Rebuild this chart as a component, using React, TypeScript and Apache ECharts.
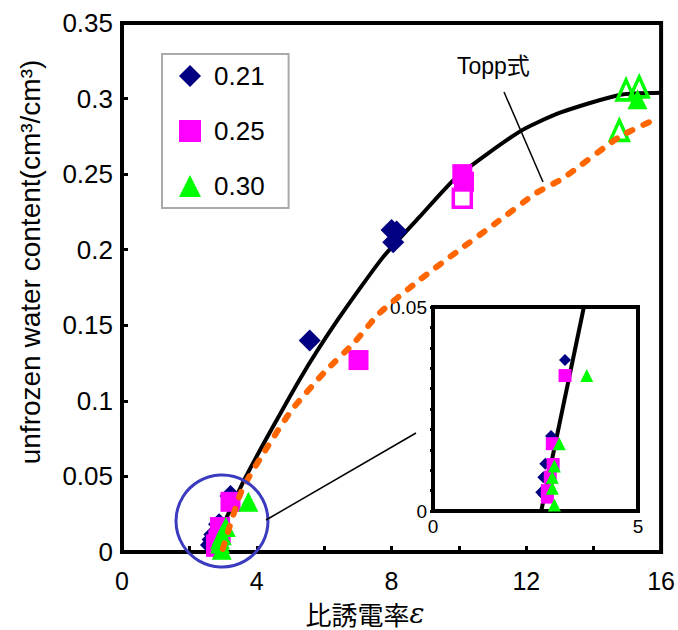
import React, { useEffect, useRef } from 'react';
import * as echarts from 'echarts';

const FONT = '"Liberation Sans", Arial, sans-serif';
const JPFONT = '"Liberation Sans", "Noto Sans CJK JP", sans-serif';

// Legend / category names
const legendNames = ['0.21', '0.25', '0.30'];

// Measured points [permittivity ε, unfrozen water content]
const diamond021: number[][] = [
  [5.57, 0.14], [8.0, 0.213], [8.05, 0.205], [8.15, 0.212],
  [3.22, 0.037], [2.88, 0.0184], [2.74, 0.0116], [2.69, 0.0083], [2.64, 0.0046], [2.7, 0.004],
];
const square025: number[][] = [
  [7.02, 0.127], [10.1, 0.25], [10.15, 0.245],
  [3.22, 0.0332], [2.91, 0.0165], [2.93, 0.0114], [2.86, 0.0083], [2.79, 0.005], [2.79, 0.0034],
];
const square025Hollow: number[][] = [[10.1, 0.234]];
const triangle030: number[][] = [
  [15.3, 0.2995],
  [3.75, 0.0332], [3.08, 0.0165], [2.96, 0.011], [2.91, 0.0083], [2.91, 0.0056], [2.96, 0.0015],
];
const triangle030Hollow: number[][] = [[14.96, 0.3057], [15.35, 0.3077], [14.76, 0.279]];

// Fitted curve (solid black)
const fitCurve: number[][] = [
  [2.64, 0], [3.68, 0.05], [5.27, 0.114], [6.4, 0.1535], [7.73, 0.1946], [8.83, 0.2217],
  [9.93, 0.248], [11.79, 0.278], [12.98, 0.2905], [14.76, 0.3024], [16, 0.3038],
];
// Topp equation curve (orange dotted)
const toppCurve: number[][] = [
  [2.99, 0.002], [3.56, 0.041], [4.33, 0.07], [5.04, 0.094], [6.01, 0.119], [6.87, 0.138],
  [7.64, 0.158], [8.83, 0.18], [9.93, 0.1985], [11.1, 0.2177], [12.3, 0.2376], [13.07, 0.247],
  [14.76, 0.2746], [15.9, 0.287],
];
// Inset fitted segment
const insetCurve: number[][] = [[2.64, 0], [3.68, 0.05]];

const mainX = { min: 0, max: 16, interval: 2 };
const mainY = { min: 0, max: 0.35, interval: 0.05 };
const insetX = { min: 0, max: 5, interval: 1 };
const insetY = { min: 0, max: 0.05, interval: 0.005 };

const NAVY = '#000080';
const MAGENTA = '#ff00ff';
const GREEN = '#00ff00';
const ORANGE = '#ff6600';

export default function App() {
  const ref = useRef<HTMLDivElement>(null);
  useEffect(() => {
    document.body.style.margin = '0';
    const chart = echarts.init(ref.current!, undefined, { renderer: 'svg' });
    const option: any = {
      animation: false,
      backgroundColor: '#fff',
      textStyle: { fontFamily: FONT },
      grid: [
        { left: 122, top: 23, width: 540, height: 529, show: true, borderColor: '#000', borderWidth: 4, backgroundColor: 'transparent' },
        { left: 433, top: 307, width: 205, height: 204, show: true, borderColor: '#000', borderWidth: 4, backgroundColor: '#fff', z: 5 },
      ],
      legend: {
        left: 162, top: 54, orient: 'vertical',
        data: legendNames,
        itemWidth: 22, itemHeight: 22, itemGap: 29,
        padding: [9, 24, 9, 17],
        borderColor: '#aaaaaa', borderWidth: 2,
        textStyle: { fontSize: 26, fontFamily: FONT, color: '#000', padding: [0, 0, 0, 8] },
      },
      xAxis: [
        {
          type: 'value', gridIndex: 0, ...mainX,
          splitLine: { show: false },
          axisLine: { lineStyle: { color: '#000', width: 4 } },
          axisTick: { inside: true, length: 6, lineStyle: { color: '#000', width: 3 } },
          axisLabel: {
            fontSize: 25, color: '#000', margin: 16, fontFamily: FONT,
            formatter: (v: number) => (Math.round(v) % 4 === 0 ? String(v) : ''),
          },
        },
        {
          type: 'value', gridIndex: 1, ...insetX,
          splitLine: { show: false },
          axisLine: { lineStyle: { color: '#000', width: 4 } },
          axisTick: { inside: true, length: 4, lineStyle: { color: '#000', width: 3 } },
          axisLabel: {
            fontSize: 19, color: '#000', margin: 6, fontFamily: FONT,
            formatter: (v: number) => (v === 0 || v === 5 ? String(v) : ''),
          },
        },
      ],
      yAxis: [
        {
          type: 'value', gridIndex: 0, ...mainY,
          splitLine: { show: false },
          axisLine: { lineStyle: { color: '#000', width: 4 } },
          axisTick: { inside: true, length: 6, lineStyle: { color: '#000', width: 3 } },
          axisLabel: { fontSize: 26, color: '#000', margin: 9, fontFamily: FONT },
        },
        {
          type: 'value', gridIndex: 1, ...insetY,
          splitLine: { show: false },
          axisLine: { lineStyle: { color: '#000', width: 4 } },
          axisTick: { inside: false, length: 3, lineStyle: { color: '#000', width: 3 } },
          axisLabel: {
            fontSize: 19, color: '#000', margin: 6, fontFamily: FONT,
            formatter: (v: number) => (Math.abs(v) < 1e-9 ? '0' : Math.abs(v - 0.05) < 1e-9 ? '0.05' : ''),
          },
        },
      ],
      series: [
        { name: 'fit', type: 'line', data: fitCurve, showSymbol: false, symbol: 'none', smooth: 0.2, lineStyle: { color: '#000', width: 4 }, z: 1 },
        { name: '0.21', type: 'scatter', data: diamond021, symbol: 'diamond', symbolSize: 22, itemStyle: { color: NAVY, opacity: 1 }, z: 2 },
        { name: 'h25', type: 'scatter', data: square025Hollow, symbol: 'rect', symbolSize: 18, itemStyle: { color: '#fff', borderColor: MAGENTA, borderWidth: 3.5, opacity: 1 }, z: 2 },
        { name: '0.25', type: 'scatter', data: square025, symbol: 'rect', symbolSize: 20, itemStyle: { color: MAGENTA, opacity: 1 }, z: 3 },
        { name: '0.30', type: 'scatter', data: triangle030, symbol: 'triangle', symbolSize: 20, itemStyle: { color: GREEN, opacity: 1 }, z: 4 },
        { name: 'h30', type: 'scatter', data: triangle030Hollow, symbol: 'triangle', symbolSize: [18, 20], itemStyle: { color: 'rgba(255,255,255,0)', borderColor: GREEN, borderWidth: 3.5, opacity: 1 }, z: 4 },
        { name: 'Topp', type: 'line', data: toppCurve, showSymbol: false, symbol: 'none', smooth: 0.2, lineStyle: { color: ORANGE, width: 6, type: [6, 12], cap: 'round' }, z: 5 },

        { name: 'iFit', type: 'line', xAxisIndex: 1, yAxisIndex: 1, data: insetCurve, symbol: 'none', lineStyle: { color: '#000', width: 4 }, z: 6 },
        { name: 'i21', type: 'scatter', xAxisIndex: 1, yAxisIndex: 1, data: diamond021, symbol: 'diamond', symbolSize: 12, itemStyle: { color: NAVY, opacity: 1 }, z: 7 },
        { name: 'i25', type: 'scatter', xAxisIndex: 1, yAxisIndex: 1, data: square025, symbol: 'rect', symbolSize: 13, itemStyle: { color: MAGENTA, opacity: 1 }, z: 8 },
        { name: 'i30', type: 'scatter', xAxisIndex: 1, yAxisIndex: 1, data: triangle030, symbol: 'triangle', symbolSize: 13, itemStyle: { color: GREEN, opacity: 1 }, z: 9 },
      ],
      graphic: [
        { type: 'circle', shape: { cx: 222, cy: 521, r: 46 }, style: { fill: 'none', stroke: '#3b3bbf', lineWidth: 3 }, z: 20 },
        { type: 'line', shape: { x1: 266, y1: 520, x2: 416, y2: 433 }, style: { stroke: '#000', lineWidth: 1.5 }, z: 20 },
        { type: 'line', shape: { x1: 504, y1: 92, x2: 543, y2: 182 }, style: { stroke: '#000', lineWidth: 1.5 }, z: 20 },
        { type: 'text', x: 457, y: 66, style: { text: 'Topp式', fontSize: 23, fontFamily: JPFONT, fill: '#000', verticalAlign: 'middle' }, z: 20 },
        {
          type: 'text', x: 30, y: 262, rotation: Math.PI / 2,
          style: { text: 'unfrozen water content(cm³/cm³)', fontSize: 28, fontFamily: FONT, fill: '#000', align: 'center', verticalAlign: 'middle' },
          z: 20,
        },
        {
          type: 'text', x: 365, y: 613,
          style: {
            text: '{a|比誘電率}{b|ε}', align: 'center', verticalAlign: 'middle',
            rich: {
              a: { fontSize: 26, fontFamily: '"Noto Sans CJK JP", sans-serif', fill: '#000' },
              b: { fontSize: 28, fontFamily: '"DejaVu Serif", serif', fontStyle: 'italic', fill: '#000' },
            },
          },
          z: 20,
        },
      ],
    };
    chart.setOption(option);
    return () => chart.dispose();
  }, []);
  return <div ref={ref} style={{ width: 678, height: 630, position: 'absolute', left: 0, top: 0 }} />;
}
